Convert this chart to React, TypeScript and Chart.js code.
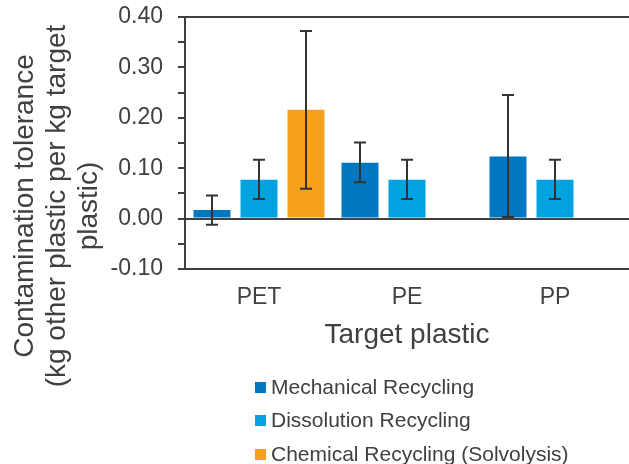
import React, { useEffect, useRef } from "react";
import { Chart, registerables } from "chart.js";

Chart.register(...registerables);

const categories = ["PET", "PE", "PP"];
const seriesNames = [
  "Mechanical Recycling",
  "Dissolution Recycling",
  "Chemical Recycling (Solvolysis)",
];
const mechanical = [0.017, 0.111, 0.123];
const dissolution = [0.077, 0.077, 0.077];
const chemical = [0.216, null, null];

const mechanicalLow = [-0.012, 0.072, 0.003];
const mechanicalHigh = [0.046, 0.151, 0.245];
const dissolutionLow = [0.039, 0.039, 0.039];
const dissolutionHigh = [0.117, 0.117, 0.117];
const chemicalLow = [0.059, null, null];
const chemicalHigh = [0.372, null, null];

const yMin = -0.1;
const yMax = 0.4;
const yStep = 0.05;

const yTitleLines = [
  "Contamination tolerance",
  "(kg other plastic per kg target",
  "plastic)",
];
const xTitle = "Target plastic";

const colors = ["#0077C0", "#00A3E0", "#F5A11C"];
const textColor = "#404040";
const axisColor = "#404040";
const fontFamily = "'Liberation Sans', Arial, sans-serif";

const errorBars = [
  [mechanicalLow, mechanicalHigh],
  [dissolutionLow, dissolutionHigh],
  [chemicalLow, chemicalHigh],
];

const errorBarPlugin = {
  id: "errorBars",
  afterDatasetsDraw(chart: any) {
    const ctx = chart.ctx;
    const yScale = chart.scales.y;
    chart.data.datasets.forEach((_ds: any, i: number) => {
      const meta = chart.getDatasetMeta(i);
      const [lows, highs] = errorBars[i];
      meta.data.forEach((el: any, j: number) => {
        const lo = lows[j];
        const hi = highs[j];
        if (lo == null || hi == null) return;
        const x = el.x;
        const y1 = yScale.getPixelForValue(lo);
        const y2 = yScale.getPixelForValue(hi);
        ctx.save();
        ctx.strokeStyle = "#333333";
        ctx.lineWidth = 2;
        ctx.beginPath();
        ctx.moveTo(x, y1);
        ctx.lineTo(x, y2);
        ctx.moveTo(x - 6, y1);
        ctx.lineTo(x + 6, y1);
        ctx.moveTo(x - 6, y2);
        ctx.lineTo(x + 6, y2);
        ctx.stroke();
        ctx.restore();
      });
    });
  },
};

const frameAndTitlePlugin = {
  id: "frameAndTitle",
  afterDraw(chart: any) {
    const ctx = chart.ctx;
    const area = chart.chartArea;
    const yPix = chart.scales.y.getPixelForValue(yMax);
    ctx.save();
    ctx.strokeStyle = axisColor;
    ctx.lineWidth = 2;
    ctx.beginPath();
    ctx.moveTo(area.left, yPix);
    ctx.lineTo(area.right, yPix);
    ctx.stroke();
    ctx.restore();

    const baselines = [33, 65, 97];
    const centerY = 206;
    ctx.save();
    ctx.fillStyle = textColor;
    ctx.font = `28px ${fontFamily}`;
    ctx.textAlign = "center";
    ctx.textBaseline = "alphabetic";
    yTitleLines.forEach((line, i) => {
      ctx.save();
      ctx.translate(baselines[i], centerY);
      ctx.rotate(-Math.PI / 2);
      ctx.fillText(line, 0, 0);
      ctx.restore();
    });
    ctx.restore();
  },
};

const isLabeled = (v: number) => Math.round(v * 100) % 10 === 0;

export default function App() {
  const canvasRef = useRef<HTMLCanvasElement | null>(null);

  useEffect(() => {
    if (!canvasRef.current) return;
    Chart.defaults.font.family = fontFamily;
    Chart.defaults.color = textColor;
    const chart = new Chart(canvasRef.current, {
      type: "bar",
      data: {
        labels: categories,
        datasets: [
          { label: seriesNames[0], data: mechanical, backgroundColor: colors[0] },
          { label: seriesNames[1], data: dissolution, backgroundColor: colors[1] },
          { label: seriesNames[2], data: chemical, backgroundColor: colors[2] },
        ],
      },
      options: {
        animation: false,
        responsive: false,
        devicePixelRatio: 1,
        layout: { padding: { top: 17, left: 0, right: 0, bottom: 0 } },
        datasets: {
          bar: { barPercentage: 0.787, categoryPercentage: 0.953 },
        },
        plugins: {
          legend: { display: false },
          tooltip: { enabled: false },
        },
        scales: {
          x: {
            grid: { display: false, drawTicks: false },
            border: { display: true, color: axisColor, width: 2 },
            ticks: { font: { size: 23 }, color: textColor, padding: 15 },
            title: {
              display: true,
              text: xTitle,
              font: { size: 28 },
              color: textColor,
              padding: { top: 0, bottom: 112 },
            },
            afterFit(scale: any) {
              scale.height = 195;
            },
          },
          xTop: {
            type: "category",
            position: "top",
            grid: { display: false, drawTicks: false },
            border: { display: true, color: axisColor, width: 2 },
            ticks: { display: false },
            afterFit(scale: any) {
              scale.height = 0;
            },
          },
          y: {
            min: yMin,
            max: yMax,
            border: { display: true, color: axisColor, width: 2 },
            grid: {
              drawTicks: true,
              tickLength: 7,
              tickWidth: 2,
              tickColor: axisColor,
              lineWidth: 2,
              color: (ctx: any) => {
                const v = ctx.tick ? ctx.tick.value : NaN;
                if (Math.abs(v) < 1e-9 || Math.abs(v - yMax) < 1e-9) return axisColor;
                return "rgba(0,0,0,0)";
              },
            },
            ticks: {
              stepSize: yStep,
              autoSkip: false,
              padding: 15,
              font: { size: 23 },
              color: textColor,
              callback: (value: any) => {
                const v = Number(value);
                return isLabeled(v) ? v.toFixed(2) : "";
              },
            },
            afterFit(scale: any) {
              scale.width = 185;
              scale.paddingTop = 0;
              scale.paddingBottom = 0;
            },
          },
        },
      },
      plugins: [errorBarPlugin, frameAndTitlePlugin],
    });
    return () => chart.destroy();
  }, []);

  const rowCenters = [387, 420, 454];

  return (
    <div
      style={{
        position: "fixed",
        left: 0,
        top: 0,
        width: 629,
        height: 464,
        background: "#ffffff",
      }}
    >
      <canvas ref={canvasRef} width={629} height={464} style={{ display: "block" }} />
      {seriesNames.map((name, i) => (
        <div
          key={name}
          style={{
            position: "absolute",
            left: 255,
            top: rowCenters[i] - 12,
            height: 24,
            display: "flex",
            alignItems: "center",
            fontFamily,
            fontSize: 21,
            color: textColor,
            whiteSpace: "nowrap",
          }}
        >
          <span
            style={{
              display: "inline-block",
              width: 11,
              height: 11,
              background: colors[i],
              marginRight: 5,
            }}
          />
          <span>{name}</span>
        </div>
      ))}
    </div>
  );
}
